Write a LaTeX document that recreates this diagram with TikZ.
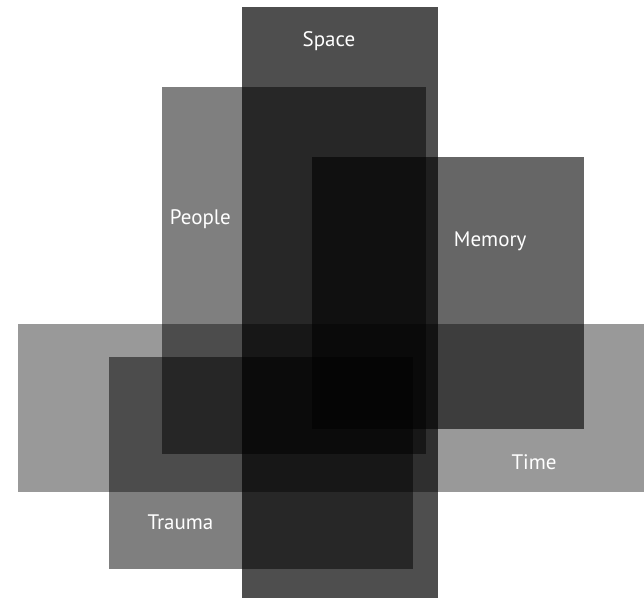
\documentclass[tikz,border=0pt]{standalone}
\usepackage{fontspec}
\setmainfont{PT Sans}
\tikzset{
  layer/.style={fill=black, draw=none},
  lbl/.style={text=white, anchor=base, inner sep=0pt, font=\fontsize{21}{24}\selectfont}
}
\begin{document}
\begin{tikzpicture}[x=1pt,y=-1pt]
\useasboundingbox (0,0) rectangle (644,599);
% rectangles (black with opacity = multiply-like blending)
\path[layer, fill opacity=0.695] (242,7.5) rectangle (437.5,597.5);
\path[layer, fill opacity=0.5] (162.3,87.5) rectangle (425.7,454.3);
\path[layer, fill opacity=0.6] (312,156.5) rectangle (583.7,429);
\path[layer, fill opacity=0.4] (18.3,324) rectangle (644,492.3);
\path[layer, fill opacity=0.5] (109,356.7) rectangle (413.3,569);
% labels
\node[lbl] (space) at (329,46.7) {Space};
\node[lbl] (people) at (200.3,224.3) {People};
\node[lbl] (memory) at (490.2,246.7) {Memory};
\node[lbl] (time) at (534,469.3) {Time};
\node[lbl] (trauma) at (180.5,529.3) {Trauma};
\end{tikzpicture}
\end{document}
